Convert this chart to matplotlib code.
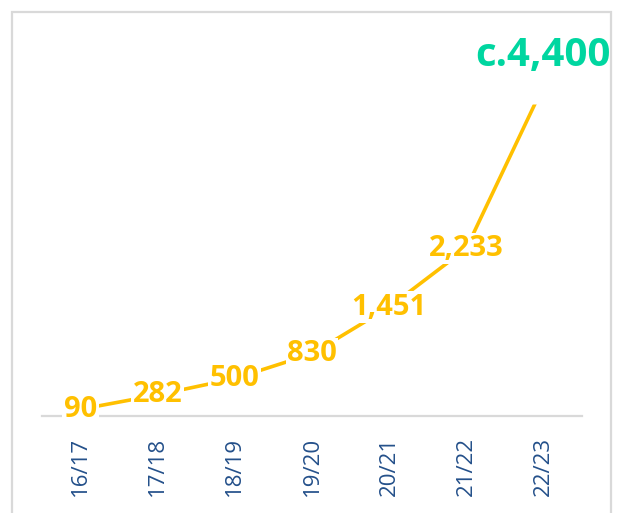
import matplotlib
matplotlib.use("Agg")
import matplotlib.pyplot as plt
from matplotlib.patches import Rectangle

years = ["16/17", "17/18", "18/19", "19/20", "20/21", "21/22", "22/23"]
values = [90, 282, 500, 830, 1451, 2233, 4400]
labels = ["90", "282", "500", "830", "1,451", "2,233", "c.4,400"]

yellow = "#FFC000"
teal = "#00D6A0"
navy = "#24508A"
grey = "#D9D9D9"
font = ["Open Sans", "DejaVu Sans"]

fig = plt.figure(figsize=(6.17, 5.13), dpi=100)
ax = fig.add_axes([42 / 617, 97 / 513, 540 / 617, 375 / 513])

# outer frame (bottom edge falls outside the picture)
fig.patches.append(Rectangle((12 / 617, -0.05), 599 / 617, (501 / 513) + 0.05,
                             transform=fig.transFigure, fill=False,
                             edgecolor=grey, lw=1.6))

x = range(len(years))
ax.plot(x, values, color=yellow, lw=2.6, solid_capstyle="butt", zorder=2)
# blank label box at the last point hides the end of the line
ax.plot(x[-1], values[-1], marker="s", ms=26, color="white", mec="none", zorder=3)

for i, (v, lab) in enumerate(zip(values[:-1], labels[:-1])):
    ax.text(i, v, lab, ha="center", va="center", fontsize=21, fontweight="bold",
            color=yellow, family=font, zorder=5, clip_on=False,
            bbox=dict(boxstyle="square,pad=0.05", fc="white", ec="none"))

ax.annotate(labels[-1], xy=(6, values[-1]), xytext=(0, 22),
            textcoords="offset points", ha="center", va="center",
            fontsize=29, fontweight="bold", color=teal, family=font,
            annotation_clip=False, zorder=6)

ax.set_xlim(-0.5, len(years) - 0.5)
ax.set_ylim(0, 5000)
ax.set_yticks([])
ax.set_xticks(list(x))
ax.set_xticklabels(years, rotation=90, fontsize=16, color=navy, family=font)
ax.tick_params(axis="x", length=0, pad=15)
for s in ["top", "right", "left"]:
    ax.spines[s].set_visible(False)
ax.spines["bottom"].set_color(grey)
ax.spines["bottom"].set_linewidth(1.6)
ax.spines["bottom"].set_zorder(1)
ax.set_facecolor("none")

fig.savefig("out.png", dpi=100)
